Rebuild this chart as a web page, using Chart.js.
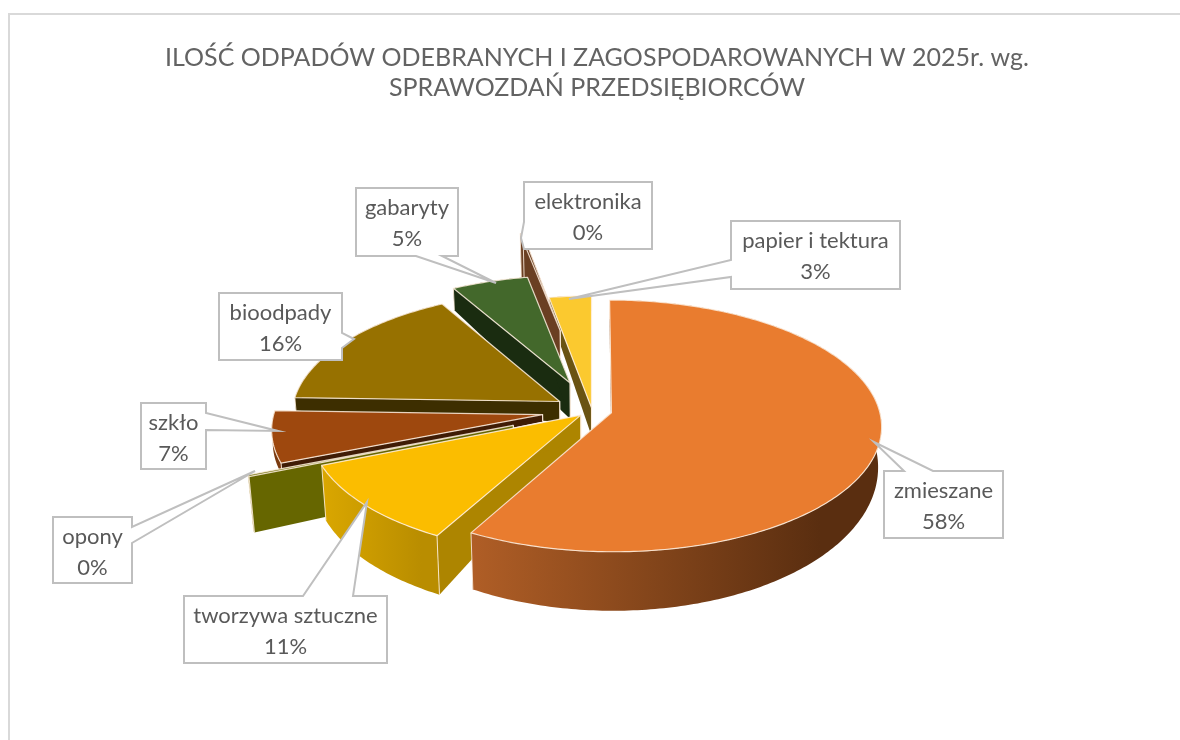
<!DOCTYPE html>
<html>
<head>
<meta charset="utf-8">
<title>Odpady 2025</title>
<script src="https://cdn.jsdelivr.net/npm/chart.js@4"></script>
<style>
  html, body { margin: 0; padding: 0; width: 1180px; height: 740px; overflow: hidden; background: #fff; }
  #frame { position: absolute; left: 8px; top: 13px; width: 1190px; height: 760px; border: 2px solid #d9d9d9; box-sizing: border-box; }
  #chart { position: absolute; left: 0; top: 0; }
</style>
</head>
<body>
<div id="frame"></div>
<canvas id="chart" width="1180" height="740"></canvas>
<script>
// data (labels only show rounded percents)
var chartTitle = ['ILOŚĆ ODPADÓW ODEBRANYCH I ZAGOSPODAROWANYCH W 2025r. wg.', 'SPRAWOZDAŃ PRZEDSIĘBIORCÓW'];
var categories = ['zmieszane', 'tworzywa sztuczne', 'opony', 'szkło', 'bioodpady', 'gabaryty', 'elektronika', 'papier i tektura'];
var shares = [58.0, 10.7, 0.2, 6.6, 16.3, 5.2, 0.2, 2.8];

// slice styles
var topColors = ['#E97C2F', '#FBBD00', '#6B6B00', '#9E480E', '#977100', '#43682B', '#6A3F22', '#FBC92F'];
var radialWallColors = ['#7A3F16', '#AD8500', '#666600', '#3F1C05', '#3D2E00', '#1A2C10', '#6A3F22', '#6A5312'];
var outerWallLeft = ['#B05E26', '#DAA700', '#666600', '#7A3A0F', '#3D2E00', '#1A2C10', '#6A3F22', '#6A5312'];
var outerWallRight = ['#5A2E10', '#B98D00', '#666600', '#7A3A0F', '#3D2E00', '#1A2C10', '#6A3F22', '#6A5312'];
var sliceOffsets = [20, 15, 84, 50, 38, 65, 188, 6];
var wallApex = [25, 25, 50, 7, 20, 36, 44, 28];
var wallRim = [39, 52, 56, 12, 13, 22, 62, 15];
var wallRimSlope = [20, 8, 0, 0, 0, 0, 0, 0];

// label callouts: box [x, y, w, h], side the pointer leaves from, its two base points, tip
var calloutBoxes = [[884, 471, 119, 67], [184, 596, 203, 67], [53, 517, 79, 66], [141, 403, 65, 66], [219, 293, 123, 67], [356, 188, 102, 68], [524, 182, 128, 67], [731, 221, 169, 68]];
var calloutSides = ['top', 'top', 'right', 'right', 'right', 'bottom', 'left', 'left'];
var calloutBases = [[904, 933], [303, 353], [527, 543], [413, 430], [333, 348], [416, 442], [222, 249], [260, 277]];
var calloutTips = [[874, 442], [367, 502], [255, 471], [278, 431], [354, 339], [496, 283], [521, 238], [569, 299]];

var pieRadius = 268;
var pieShiftX = -5;
var planeTilt = 124;
var perspective = 0.104;
var wallLean = 0.08;
var labelFont = '22px Lato';
var labelColor = '#595959';
var edgeColor = 'rgba(255,240,225,0.85)';

// pie plane (px right, py towards the viewer) to the screen, z is the drop below the top face
function project(arc, px, py, z) {
  var v = py / pieRadius;
  var s = 1 / (1 - perspective * v);
  return {
    x: arc.x + pieShiftX + px * s - (px / pieRadius) * z * wallLean,
    y: arc.y + planeTilt * v * s + z
  };
}

function tracePath(ctx, pts) {
  ctx.beginPath();
  pts.forEach(function (p, i) {
    if (i === 0) ctx.moveTo(p.x, p.y); else ctx.lineTo(p.x, p.y);
  });
  ctx.closePath();
}

class TiltedArc extends Chart.ArcElement {
  draw(ctx) {
    var arc = this.getProps(['x', 'y', 'startAngle', 'endAngle', 'outerRadius']);
    var i = this.$sliceIndex;
    var off = this.options.offset;
    var mid = (arc.startAngle + arc.endAngle) / 2;
    var ox = Math.cos(mid) * off;
    var oy = Math.sin(mid) * off;
    var r = arc.outerRadius;

    function rimDrop(a) {
      return wallRim[i] + wallRimSlope[i] * Math.sin(a);
    }
    function rimPoint(a, bottom) {
      return project(arc, ox + Math.cos(a) * r, oy + Math.sin(a) * r, bottom ? rimDrop(a) : 0);
    }
    var apexTop = project(arc, ox, oy, 0);
    var apexBottom = project(arc, ox, oy, wallApex[i]);

    var angles = [];
    var steps = Math.max(2, Math.ceil((arc.endAngle - arc.startAngle) / 0.015));
    for (var k = 0; k <= steps; k++) {
      angles.push(arc.startAngle + (arc.endAngle - arc.startAngle) * k / steps);
    }
    var topRim = angles.map(function (a) { return rimPoint(a, false); });
    var bottomRim = angles.map(function (a) { return rimPoint(a, true); });

    ctx.save();
    ctx.lineJoin = 'round';

    // flat side faces
    [0, angles.length - 1].forEach(function (e) {
      tracePath(ctx, [apexTop, topRim[e], bottomRim[e], apexBottom]);
      ctx.fillStyle = radialWallColors[i];
      ctx.fill();
    });

    // curved outer wall
    var xs = topRim.concat(bottomRim).map(function (p) { return p.x; });
    var minX = Math.min.apply(null, xs);
    var maxX = Math.max.apply(null, xs);
    var grad = ctx.createLinearGradient(minX, 0, minX + (maxX - minX) * 0.85, 0);
    grad.addColorStop(0, outerWallLeft[i]);
    grad.addColorStop(1, outerWallRight[i]);
    tracePath(ctx, topRim.concat(bottomRim.slice().reverse()));
    ctx.fillStyle = grad;
    ctx.fill();

    // light corner lines where the walls meet
    ctx.strokeStyle = edgeColor;
    ctx.lineWidth = 1;
    [0, angles.length - 1].forEach(function (e) {
      ctx.beginPath();
      ctx.moveTo(topRim[e].x, topRim[e].y);
      ctx.lineTo(bottomRim[e].x, bottomRim[e].y);
      ctx.moveTo(apexTop.x, apexTop.y);
      ctx.lineTo(apexBottom.x, apexBottom.y);
      ctx.stroke();
    });

    // top face
    tracePath(ctx, [apexTop].concat(topRim));
    ctx.fillStyle = this.options.backgroundColor;
    ctx.fill();
    ctx.strokeStyle = this.options.borderColor;
    ctx.lineWidth = this.options.borderWidth;
    ctx.stroke();
    ctx.restore();
  }
}
TiltedArc.id = 'tiltedArc';

class TiltedPie extends Chart.PieController {
  // back slices first, the biggest one ends up in front
  draw() {
    var arcs = this.getMeta().data;
    for (var i = arcs.length - 1; i >= 0; i--) {
      arcs[i].$sliceIndex = i;
      arcs[i].draw(this.chart.ctx, this.chart.chartArea);
    }
  }
}
TiltedPie.id = 'tiltedPie';
TiltedPie.defaults = { dataElementType: 'tiltedArc' };

Chart.register(TiltedArc, TiltedPie);

var calloutPlugin = {
  id: 'callouts',
  afterDatasetsDraw: function (chart) {
    var ctx = chart.ctx;
    var total = shares.reduce(function (a, b) { return a + b; }, 0);
    ctx.save();
    categories.forEach(function (name, i) {
      var b = calloutBoxes[i], x = b[0], y = b[1], r = b[0] + b[2], d = b[1] + b[3];
      var side = calloutSides[i], base = calloutBases[i], tip = calloutTips[i];
      ctx.beginPath();
      ctx.moveTo(x, y);
      if (side === 'top') { ctx.lineTo(base[0], y); ctx.lineTo(tip[0], tip[1]); ctx.lineTo(base[1], y); }
      ctx.lineTo(r, y);
      if (side === 'right') { ctx.lineTo(r, base[0]); ctx.lineTo(tip[0], tip[1]); ctx.lineTo(r, base[1]); }
      ctx.lineTo(r, d);
      if (side === 'bottom') { ctx.lineTo(base[1], d); ctx.lineTo(tip[0], tip[1]); ctx.lineTo(base[0], d); }
      ctx.lineTo(x, d);
      if (side === 'left') { ctx.lineTo(x, base[1]); ctx.lineTo(tip[0], tip[1]); ctx.lineTo(x, base[0]); }
      ctx.closePath();
      ctx.fillStyle = '#fff';
      ctx.fill();
      ctx.strokeStyle = '#bfbfbf';
      ctx.lineWidth = 2;
      ctx.stroke();

      ctx.fillStyle = labelColor;
      ctx.font = labelFont;
      ctx.textAlign = 'center';
      ctx.textBaseline = 'middle';
      ctx.fillText(name, x + b[2] / 2, y + 20);
      ctx.fillText(Math.round(shares[i] / total * 100) + '%', x + b[2] / 2, y + 51);
    });
    ctx.restore();
  }
};

new Chart(document.getElementById('chart'), {
  type: 'tiltedPie',
  data: {
    labels: categories,
    datasets: [{
      data: shares,
      backgroundColor: topColors,
      borderColor: edgeColor,
      borderWidth: 1.2,
      offset: sliceOffsets,
      radius: pieRadius
    }]
  },
  options: {
    responsive: false,
    animation: false,
    devicePixelRatio: 1,
    layout: { padding: { left: 14, bottom: 22 } },
    plugins: {
      legend: { display: false },
      tooltip: { enabled: false },
      title: {
        display: true,
        text: chartTitle,
        color: '#636363',
        font: { family: 'Lato', size: 25, weight: 'normal', lineHeight: 1.2 },
        padding: { top: 43, bottom: 0 }
      }
    }
  },
  plugins: [calloutPlugin]
});
</script>
</body>
</html>
